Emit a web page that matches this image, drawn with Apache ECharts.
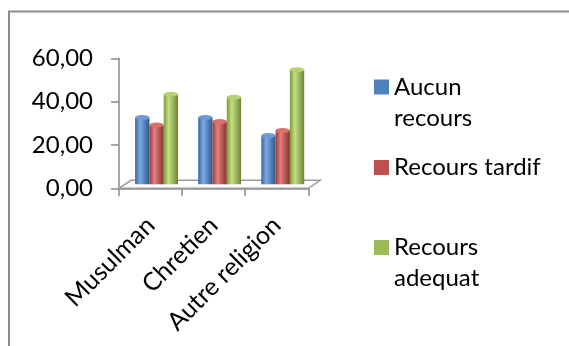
<!DOCTYPE html>
<html>
<head>
<meta charset="utf-8">
<script src="https://cdn.jsdelivr.net/npm/echarts@6/dist/echarts.min.js"></script>
<style>
html,body{margin:0;padding:0;background:#fff;}
#chart{width:569px;height:346px;}
</style>
</head>
<body>
<div id="chart"></div>
<script>
// ---- data ----
const categories = ['Musulman', 'Chretien', 'Autre religion'];
const seriesNames = ['Aucun recours', 'Recours tardif', 'Recours adequat'];
const aucunRecours = [30.8, 30.8, 22.5];
const recoursTardif = [27.4, 29.0, 24.8];
const recoursAdequat = [41.6, 40.2, 52.9];
const yTicks = [0, 20, 40, 60];

const values = [aucunRecours, recoursTardif, recoursAdequat];
const baseColors = ['#4F81BD', '#C0504D', '#9BBB59'];
const grads = [
  ['#36649e', '#7eaae2', '#2c5890'],
  ['#9e3936', '#e2807d', '#8a302d'],
  ['#7a9a3a', '#c4e084', '#6a8632']
];
const topColors = ['#6b9ad6', '#d8716e', '#b3d173'];
const legendText = {
  'Aucun recours': 'Aucun\nrecours',
  'Recours tardif': 'Recours tardif',
  'Recours adequat': 'Recours\nadequat'
};

// ---- layout ----
const W = 569, H = 346;
const G_LEFT = 119, G_RIGHT_X = 308.3, G_TOP = 58.3, G_BOTTOM_Y = 188.3;
const DX = 6, DY = -4;        // bar plane depth shift
const FDX = 12, FDY = -8;     // floor depth
const BAR_W = 14.3;
const FONT = 'Lato';
const LINE_H = 31;
const ICON = 15;

const chart = echarts.init(document.getElementById('chart'), null, {renderer: 'canvas'});

const series = [];
values.forEach((arr, i) => {
  series.push({
    name: seriesNames[i],
    type: 'bar',
    xAxisIndex: 1, yAxisIndex: 1,
    data: arr,
    barWidth: BAR_W,
    barGap: '0%',
    itemStyle: {
      color: new echarts.graphic.LinearGradient(0, 0, 1, 0, [
        {offset: 0, color: grads[i][0]},
        {offset: 0.35, color: grads[i][1]},
        {offset: 1, color: grads[i][2]}
      ])
    },
    z: 3
  });
});
values.forEach((arr, i) => {
  series.push({
    name: seriesNames[i],
    type: 'pictorialBar',
    xAxisIndex: 1, yAxisIndex: 1,
    data: arr,
    barWidth: BAR_W,
    barGap: '0%',
    symbol: 'circle',
    symbolSize: [BAR_W, 5],
    symbolPosition: 'end',
    symbolOffset: [0, '-50%'],
    itemStyle: {color: topColors[i]},
    z: 4
  });
});

// icon sits on the first text line: square at the top of a taller (invisible) box
const tallH = ICON + LINE_H;
const tallIcon = 'path://M0,0L' + ICON + ',0L' + ICON + ',' + ICON + 'L0,' + ICON + 'Z M0,' + tallH + 'L0.001,' + tallH;
const iconTops = [79.5, 160, 240];
const legends = seriesNames.map((n, i) => {
  const twoLine = legendText[n].indexOf('\n') >= 0;
  const ih = twoLine ? tallH : ICON;
  const textTop = ih / 2 - (twoLine ? LINE_H : LINE_H / 2);
  return {
    orient: 'vertical',
    left: 374,
    top: iconTops[i] + textTop,
    padding: 0,
    itemWidth: ICON,
    itemHeight: ih,
    icon: twoLine ? tallIcon : 'rect',
    itemStyle: {color: baseColors[i]},
    data: [n],
    formatter: name => legendText[name],
    textStyle: {fontFamily: FONT, fontSize: 24, color: '#000', lineHeight: LINE_H}
  };
});

const option = {
  animation: false,
  backgroundColor: '#fff',
  legend: legends,
  grid: [
    {left: G_LEFT, right: W - G_RIGHT_X, top: G_TOP, bottom: H - G_BOTTOM_Y},
    {left: G_LEFT + DX, right: W - G_RIGHT_X - DX, top: G_TOP + DY, bottom: H - G_BOTTOM_Y - DY}
  ],
  xAxis: [
    {
      type: 'category', gridIndex: 0, data: categories,
      axisLine: {show: true, lineStyle: {color: '#8a8a8a', width: 1.5}},
      axisTick: {show: true, length: 8, lineStyle: {color: '#8a8a8a', width: 1.5}},
      axisLabel: {rotate: 45, margin: 33, fontFamily: FONT, fontSize: 25, color: '#000', interval: 0}
    },
    {type: 'category', gridIndex: 1, data: categories, show: false}
  ],
  yAxis: [
    {
      type: 'value', gridIndex: 0, min: yTicks[0], max: yTicks[yTicks.length - 1], interval: 20,
      axisLine: {show: true, lineStyle: {color: '#8a8a8a', width: 1.5}},
      axisTick: {show: true, length: 8, lineStyle: {color: '#8a8a8a', width: 1.5}},
      splitLine: {show: false},
      axisLabel: {
        margin: 26, fontFamily: FONT, fontSize: 24, color: '#000',
        formatter: v => v.toFixed(2).replace('.', ',')
      }
    },
    {type: 'value', gridIndex: 1, min: yTicks[0], max: yTicks[yTicks.length - 1], show: false}
  ],
  graphic: [
    {
      type: 'rect', silent: true, z: -10,
      shape: {x: 9, y: 11.5, width: 700, height: 500},
      style: {fill: 'none', stroke: '#8c8c8c', lineWidth: 2}
    },
    {
      type: 'polygon', silent: true, z: 1,
      shape: {points: [
        [G_LEFT, G_BOTTOM_Y], [G_RIGHT_X, G_BOTTOM_Y],
        [G_RIGHT_X + FDX, G_BOTTOM_Y + FDY], [G_LEFT + FDX, G_BOTTOM_Y + FDY]
      ]},
      style: {fill: '#fff', stroke: '#9a9a9a', lineWidth: 1.5}
    }
  ],
  series: series
};
chart.setOption(option);
</script>
</body>
</html>
